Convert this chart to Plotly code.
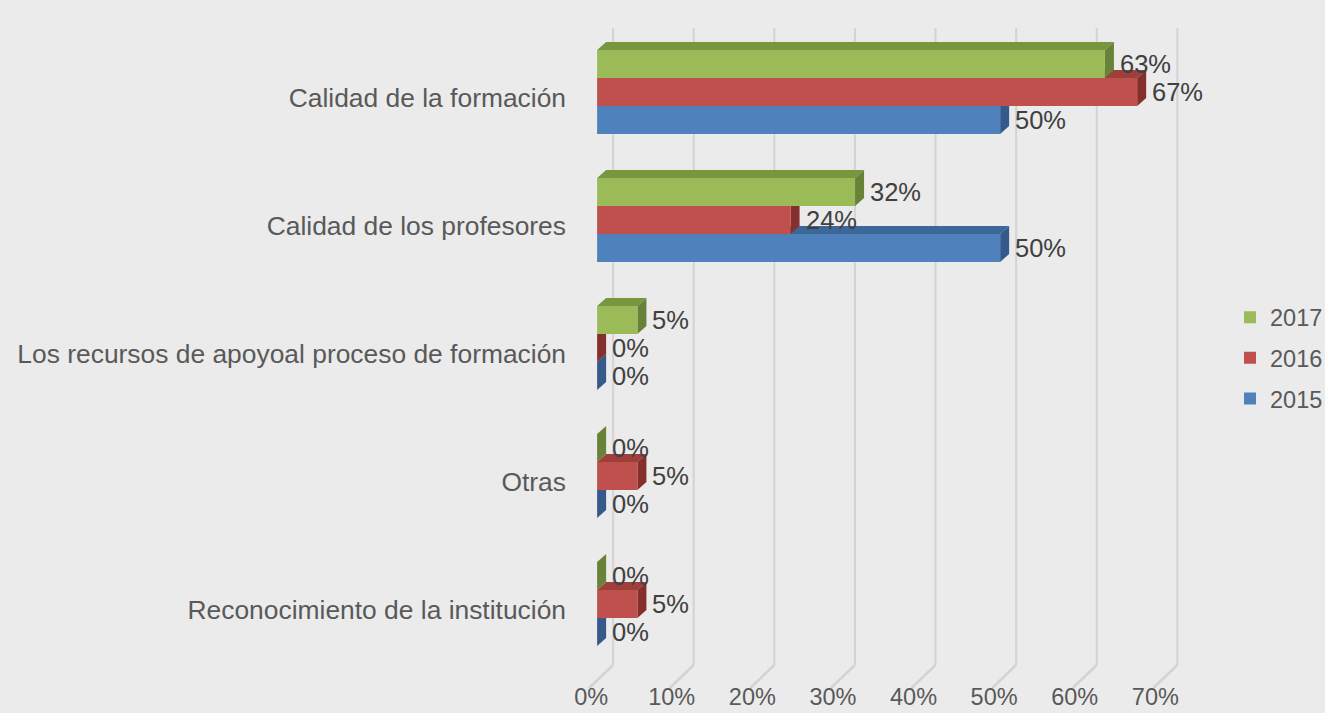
import plotly.graph_objects as go

# ---- data ----
categories = [
    "Calidad de la formación",
    "Calidad de los profesores",
    "Los recursos de apoyoal proceso de formación",
    "Otras",
    "Reconocimiento de la institución",
]
series_names = ["2015", "2016", "2017"]
values_2015 = [50, 50, 0, 0, 0]
values_2016 = [67, 24, 0, 5, 5]
values_2017 = [63, 32, 5, 0, 0]
x_ticks = [0, 10, 20, 30, 40, 50, 60, 70]
x_tick_labels = ["0%", "10%", "20%", "30%", "40%", "50%", "60%", "70%"]

series_values = [values_2015, values_2016, values_2017]
front_colors = ["#4F81BD", "#C0504D", "#9BBB59"]
top_colors = ["#3D6799", "#9E3F3C", "#7A953F"]
side_colors = ["#34598A", "#86302E", "#68823A"]
grid_color = "#D3D3D3"

# ---- geometry ----
W, H = 1325, 713
ML, MR, MT, MB = 581, 124, 28, 0
X_RANGE = [-2, 74.92]
Y_RANGE = [-109 / 128, len(categories) - 0.5]
PLOT_W = W - ML - MR
PLOT_H = H - MT - MB
PX_PER_UNIT = PLOT_W / (X_RANGE[1] - X_RANGE[0])
PX_PER_CAT = PLOT_H / (Y_RANGE[1] - Y_RANGE[0])
FLOOR_PX = 45  # axis/floor line distance from bottom edge
Y_FLOOR = -0.5
BARGAP = 0.344
NS = len(series_names)
BAR_W = (1 - BARGAP) / NS
DEPTH_X_PX, DEPTH_Y_PX = 9, 8
dx = DEPTH_X_PX / PX_PER_UNIT
half = BAR_W * PX_PER_CAT / 2

# categories bottom -> top on the y axis
cat_order = list(reversed(categories))

fig = go.Figure()
for s, name in enumerate(series_names):
    vals = list(reversed(series_values[s]))
    fig.add_trace(go.Bar(
        y=cat_order, x=vals, name=name, orientation="h",
        marker=dict(color=front_colors[s], line=dict(width=0)),
        legendgroup=name, legendrank=NS - s, hoverinfo="x+y",
    ))

# floor diagonals of the gridlines (line trace on a numeric overlay axis)
diag_x, diag_y = [], []
for v in x_ticks:
    diag_x += [v - 8 / PX_PER_UNIT, v + 16 / PX_PER_UNIT, None]
    diag_y += [Y_FLOOR - 20 / PX_PER_CAT, Y_FLOOR + 3 / PX_PER_CAT, None]
fig.add_trace(go.Scatter(
    x=diag_x, y=diag_y, mode="lines", yaxis="y2",
    line=dict(color=grid_color, width=2.5), showlegend=False, hoverinfo="skip",
))

shapes = []
GRID = dict(color=grid_color, width=2)
# gridlines on the back wall
for v in x_ticks:
    shapes.append(dict(
        type="line", xref="x", yref="y", xsizemode="pixel", ysizemode="pixel",
        xanchor=v, yanchor=Y_FLOOR, x0=16, x1=16, y0=3, y1=653,
        line=GRID, layer="below",
    ))

# 3D faces (top and side) for each bar
for ci, cat in enumerate(cat_order):
    for s in range(NS):
        v = list(reversed(series_values[s]))[ci]
        yc = ci + (s - (NS - 1) / 2) * BAR_W
        top = f"M0,{half}L{v},{half}L{v+dx},{half+DEPTH_Y_PX}L{dx},{half+DEPTH_Y_PX}Z"
        shapes.append(dict(
            type="path", xref="x", yref="y", ysizemode="pixel", yanchor=yc,
            path=top, fillcolor=top_colors[s], line=dict(width=0), layer="below",
        ))
        side = (f"M{v},{half}L{v+dx},{half+DEPTH_Y_PX}"
                f"L{v+dx},{-half+DEPTH_Y_PX}L{v},{-half}Z")
        shapes.append(dict(
            type="path", xref="x", yref="y", ysizemode="pixel", yanchor=yc,
            path=side, fillcolor=side_colors[s], line=dict(width=0), layer="below",
        ))

annotations = []
for ci, cat in enumerate(cat_order):
    for s in range(NS):
        v = list(reversed(series_values[s]))[ci]
        yc = ci + (s - (NS - 1) / 2) * BAR_W
        annotations.append(dict(
            x=v, y=yc, xref="x", yref="y", text=f"{v}%", showarrow=False,
            xanchor="left", yanchor="middle", xshift=13,
            font=dict(family="Liberation Sans, Arial, sans-serif", size=25.5, color="#404040"),
        ))

fig.update_layout(
    template="none",
    width=W, height=H,
    margin=dict(l=ML, r=MR, t=MT, b=MB, autoexpand=False),
    paper_bgcolor="#EBEBEB", plot_bgcolor="#EBEBEB",
    barmode="group", bargap=BARGAP, bargroupgap=0,
    font=dict(family="Liberation Sans, Arial, sans-serif", color="#595959"),
    xaxis=dict(
        range=X_RANGE, tickvals=x_ticks, ticktext=x_tick_labels, showgrid=False,
        zeroline=False, showline=False, ticks="", automargin=False,
        anchor="free", position=FLOOR_PX / PLOT_H,
        tickfont=dict(size=23.5, color="#595959"),
        ticklabelshift=-6, ticklabelstandoff=12,
    ),
    yaxis=dict(
        range=Y_RANGE, showgrid=False, zeroline=False,
        showline=False, ticks="", automargin=False,
        tickfont=dict(size=26.4, color="#595959"),
        ticklabelstandoff=14, ticklabelshift=6,
    ),
    yaxis2=dict(
        range=Y_RANGE, overlaying="y", showgrid=False, zeroline=False,
        showline=False, showticklabels=False, ticks="", automargin=False,
    ),
    legend=dict(
        x=(1230 - ML) / PLOT_W, xanchor="left", y=(H - MB - 358) / PLOT_H, yanchor="middle",
        traceorder="grouped", tracegroupgap=7,
        font=dict(size=23.5, color="#595959"), bgcolor="rgba(0,0,0,0)",
    ),
    shapes=shapes,
    annotations=annotations,
    showlegend=True,
)

fig.write_html("out.html", config={"displayModeBar": False},
               post_script="document.body.style.margin='0';")
